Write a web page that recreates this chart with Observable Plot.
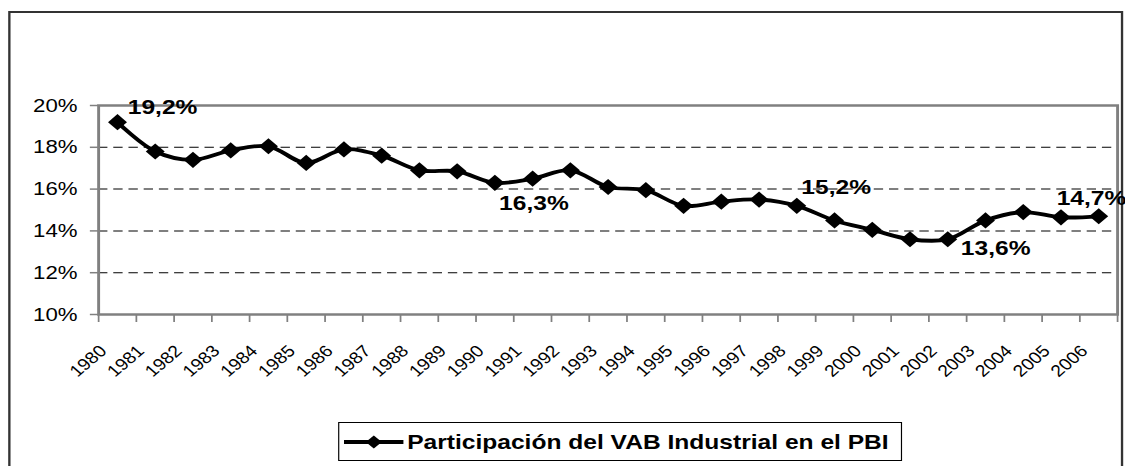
<!DOCTYPE html>
<html>
<head>
<meta charset="utf-8">
<script src="https://cdn.jsdelivr.net/npm/d3@7"></script>
<script src="https://cdn.jsdelivr.net/npm/@observablehq/plot@0.6"></script>
<style>
  html, body { margin: 0; padding: 0; background: #fff; overflow: hidden; }
  #wrap { position: relative; width: 962px; height: 466px; transform: scaleX(1.17); transform-origin: 0 0;
          font-family: "Liberation Sans", Arial, sans-serif; }
  #frame { position: absolute; left: 6.5px; top: 11px; width: 949px; height: 520px; border: 2px solid #333; }
  #chart { position: absolute; left: 0; top: 0; }
  #legend { position: absolute; left: 289px; top: 422px; width: 482px; height: 39px; box-sizing: border-box;
            border: 1px solid #000; background: #fff; display: flex; align-items: center; padding-left: 4px;
            font-weight: bold; font-size: 21px; color: #000; white-space: nowrap; }
  #legend svg { margin-right: 3px; }
</style>
</head>
<body>
<div id="wrap">
  <div id="frame"></div>
  <div id="chart"></div>
  <div id="legend"></div>
</div>
<script>
// ---- data ----
const years = [1980, 1981, 1982, 1983, 1984, 1985, 1986, 1987, 1988, 1989, 1990, 1991, 1992, 1993,
               1994, 1995, 1996, 1997, 1998, 1999, 2000, 2001, 2002, 2003, 2004, 2005, 2006];
const values = [19.2, 17.8, 17.4, 17.85, 18.05, 17.25, 17.9, 17.6, 16.9, 16.85, 16.3, 16.5, 16.9, 16.1,
                15.95, 15.2, 15.4, 15.5, 15.2, 14.5, 14.05, 13.6, 13.6, 14.5, 14.9, 14.65, 14.7];
const yTicks = [10, 12, 14, 16, 18, 20];
const labeledYears = [1980, 1990, 1998, 2002, 2006];
const seriesName = "Participación del VAB Industrial en el PBI";

const rows = years.map((y, i) => ({year: y, i, v: values[i]}));
const fmt = v => v.toFixed(1).replace(".", ",") + "%";

// label placement (style, not data)
const labelPlacement = {
  1980: {dx: 8.8, dy: -14.7},
  1990: {dx: 3.6, dy: 20.3},
  1998: {dx: 3.9, dy: -19},
  2002: {dx: 11.2, dy: 8.7},
  2006: {dx: -35.9, dy: -17.7}
};

const X = d => d.i + 0.5;

const labelMarks = labeledYears.map(yr => {
  const p = labelPlacement[yr];
  return Plot.text(rows.filter(r => r.year === yr), {
    x: X, y: "v", text: d => fmt(d.v), textAnchor: "start", lineAnchor: "middle",
    dx: p.dx, dy: p.dy, fontSize: 21, fontWeight: "bold", fill: "#000"
  });
});

const chart = Plot.plot({
  width: 962,
  height: 400,
  marginLeft: 83.8,
  marginRight: 7.3,
  marginTop: 105,
  marginBottom: 86,
  style: {fontFamily: "'Liberation Sans', Arial, sans-serif", background: "transparent", color: "#000"},
  x: {type: "linear", domain: [0, years.length], axis: null},
  y: {domain: [10, 20], axis: null},
  marks: [
    Plot.ruleY(yTicks.filter(t => t > 10 && t < 20), {stroke: "#000", strokeWidth: 1, strokeDasharray: "8,5"}),
    Plot.frame({stroke: "#808080", strokeWidth: 2.5}),
    Plot.axisY({ticks: yTicks, tickSize: 7, tickFormat: () => "", stroke: "#808080", strokeWidth: 1.5, label: null}),
    Plot.axisY({ticks: yTicks, tickSize: 0, tickPadding: 18, tickFormat: d => d + "%", fontSize: 19, fill: "#000", label: null}),
    Plot.axisX({ticks: d3.range(years.length + 1), tickSize: 8, tickFormat: () => "", stroke: "#808080", strokeWidth: 1.5, label: null}),
    Plot.text(rows, {x: X, frameAnchor: "bottom", text: d => String(d.year), rotate: -45, textAnchor: "end",
                     lineAnchor: "middle", dx: -12.1, dy: 33.7, fontSize: 16.5, fill: "#000"}),
    Plot.line(rows, {x: X, y: "v", curve: "catmull-rom", stroke: "#000", strokeWidth: 3.8}),
    Plot.dot(rows, {x: X, y: "v", symbol: "diamond2", r: 7.3, fill: "#000", stroke: "none"}),
    ...labelMarks
  ]
});
document.getElementById("chart").appendChild(chart);

// legend
const leg = document.getElementById("legend");
const ns = "http://www.w3.org/2000/svg";
const ls = document.createElementNS(ns, "svg");
ls.setAttribute("width", "51"); ls.setAttribute("height", "20");
const ln = document.createElementNS(ns, "line");
ln.setAttribute("x1", "0"); ln.setAttribute("x2", "51"); ln.setAttribute("y1", "10"); ln.setAttribute("y2", "10");
ln.setAttribute("stroke", "#000"); ln.setAttribute("stroke-width", "4");
const dm = document.createElementNS(ns, "path");
dm.setAttribute("d", d3.symbol(d3.symbolDiamond2, 120)());
dm.setAttribute("transform", "translate(25.5,10) scale(1,0.95)");
dm.setAttribute("fill", "#000");
ls.appendChild(ln); ls.appendChild(dm);
leg.appendChild(ls);
const sp = document.createElement("span");
sp.textContent = seriesName;
leg.appendChild(sp);
</script>
</body>
</html>
